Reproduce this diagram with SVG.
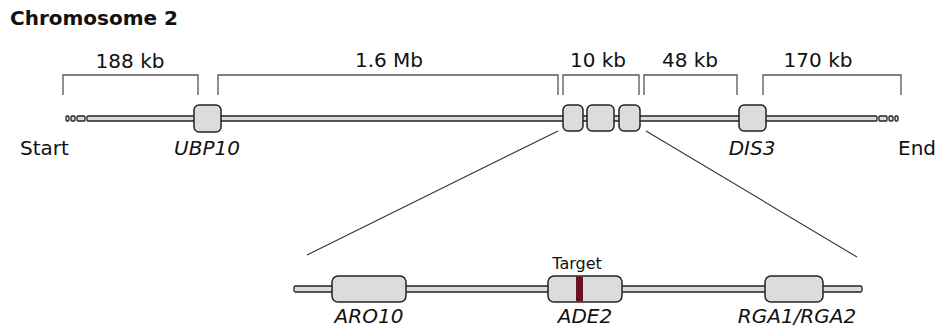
<svg xmlns="http://www.w3.org/2000/svg" width="937" height="331" viewBox="0 0 937 331">
<style>
text{font-family:"DejaVu Sans","Verdana",sans-serif;font-size:20px;fill:#111}
.t{font-weight:bold}
.i{font-style:italic}
.rod{fill:#dcdcdc;stroke:#222;stroke-width:1.3}
.gene{fill:#dcdcdc;stroke:#222;stroke-width:1.5}
.br{fill:none;stroke:#555;stroke-width:1.3}
.ln{stroke:#333;stroke-width:1.1;fill:none}
</style>
<rect width="937" height="331" fill="#fff"/>
<text class="t" x="10" y="25">Chromosome 2</text>
<g id="brackets">
<path class="br" d="M63,95V75H198V95"/>
<path class="br" d="M218,95V75H558V95"/>
<path class="br" d="M563,95V75H639V95"/>
<path class="br" d="M644,95V75H737V95"/>
<path class="br" d="M763,95V75H901V95"/>
<text x="130" y="68" text-anchor="middle">188 kb</text>
<text x="389" y="67" text-anchor="middle">1.6 Mb</text>
<text x="598" y="67" text-anchor="middle">10 kb</text>
<text x="690" y="67" text-anchor="middle">48 kb</text>
<text x="818" y="67" text-anchor="middle">170 kb</text>
</g>
<g id="chromosome">
<rect class="rod" x="87" y="116" width="790" height="5" rx="1"/>
<rect class="rod" x="66" y="116" width="3" height="5" rx="1.2"/>
<rect class="rod" x="71" y="116" width="4" height="5" rx="1.2"/>
<rect class="rod" x="77" y="116" width="8" height="5" rx="1"/>
<rect class="rod" x="879" y="116" width="8" height="5" rx="1"/>
<rect class="rod" x="889" y="116" width="4" height="5" rx="1.2"/>
<rect class="rod" x="895" y="116" width="3" height="5" rx="1.2"/>
<text x="20" y="155">Start</text>
<text x="898" y="155">End</text>
</g>
<g id="ubp10">
<rect class="gene" x="194" y="105" width="27" height="27" rx="5"/>
<text class="i" x="207" y="155" text-anchor="middle">UBP10</text>
</g>
<g id="cluster">
<rect class="gene" x="563" y="105" width="20" height="26" rx="5"/>
<rect class="gene" x="587" y="105" width="27" height="26" rx="5"/>
<rect class="gene" x="619" y="105" width="21" height="26" rx="5"/>
</g>
<g id="dis3">
<rect class="gene" x="739" y="105" width="27" height="26" rx="5"/>
<text class="i" x="752" y="155" text-anchor="middle">DIS3</text>
</g>
<g id="connectors">
<line class="ln" x1="558" y1="131" x2="307" y2="255"/>
<line class="ln" x1="646" y1="131" x2="857" y2="257"/>
</g>
<g id="detail">
<rect class="rod" x="294" y="286" width="568" height="6" rx="1.5"/>
</g>
<g id="aro10">
<rect class="gene" x="332" y="276" width="74" height="26" rx="6"/>
<text class="i" x="369" y="323" text-anchor="middle">ARO10</text>
</g>
<g id="ade2">
<rect class="gene" x="548" y="276" width="74" height="26" rx="6"/>
<rect x="576" y="276.8" width="7" height="24.4" fill="#6b1020"/>
<text x="577" y="269" text-anchor="middle" style="font-size:16px">Target</text>
<text class="i" x="585" y="323" text-anchor="middle">ADE2</text>
</g>
<g id="rga">
<rect class="gene" x="765" y="276" width="58" height="26" rx="6"/>
<text class="i" x="797" y="323" text-anchor="middle">RGA1/RGA2</text>
</g>
</svg>
